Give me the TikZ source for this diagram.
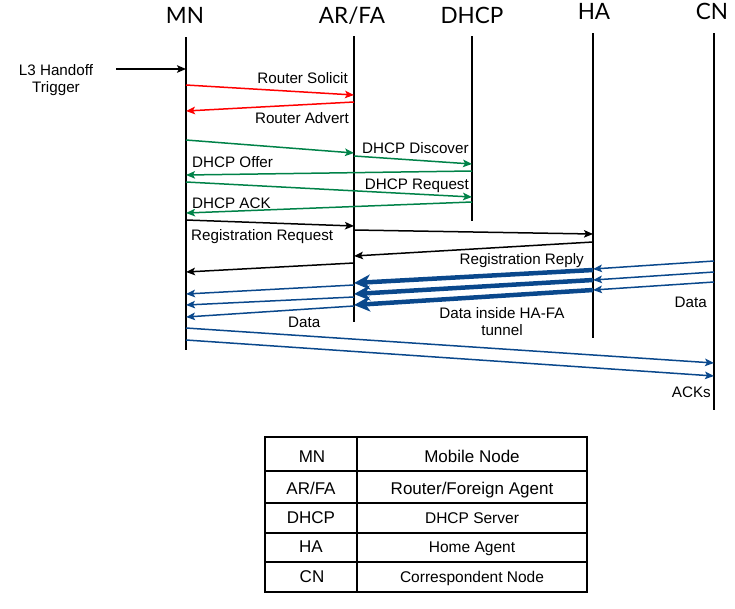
\documentclass[tikz,border=0pt]{standalone}
\usepackage{fontspec}
\setmainfont{Liberation Sans}
\newfontfamily\headfont{Lato}
\usepackage{tikz}
\usetikzlibrary{arrows.meta}
\definecolor{msgred}{RGB}{255,0,0}
\definecolor{msggreen}{RGB}{0,130,72}
\definecolor{msgblue}{RGB}{10,72,140}

\begin{document}
\begin{tikzpicture}[x=1pt, y=-1pt,
        lifeline/.style={line width=1.8pt, black},
        head/.style={font=\headfont\fontsize{22.5}{24}\selectfont, inner sep=0pt, anchor=base},
        lbl/.style={font=\fontsize{15.2}{17}\selectfont, inner sep=0pt},
        msg/.style={line width=1.5pt, -{Stealth[length=9pt, width=7.5pt, inset=2pt]}},
        tunnelmsg/.style={line width=4.5pt, msgblue, -{Stealth[length=16pt, width=15pt, inset=4.5pt]}},
        cell/.style={font=\fontsize{17}{20}\selectfont, inner sep=0pt, anchor=base},
        smallcell/.style={font=\fontsize{15.5}{18}\selectfont, inner sep=0pt, anchor=base}]
        \useasboundingbox (0,0) rectangle (735,608);

        % entities and lifelines
        \node[head] (mnH) at (185,23) {MN};
        \node[head] (arH) at (352,23) {AR/FA};
        \node[head] (dhH) at (472,23) {DHCP};
        \node[head] (haH) at (594,19) {HA};
        \node[head] (cnH) at (712,19) {CN};
        \coordinate (mnT) at (186,37);  \coordinate (mnB) at (186,350);
        \coordinate (arT) at (354,36);  \coordinate (arB) at (354,322);
        \coordinate (dhT) at (472,36);  \coordinate (dhB) at (472,221);
        \coordinate (haT) at (593,33);  \coordinate (haB) at (593,338);
        \coordinate (cnT) at (714,33);  \coordinate (cnB) at (714,410);
        \draw[lifeline] (mnT) -- (mnB);
        \draw[lifeline] (arT) -- (arB);
        \draw[lifeline] (dhT) -- (dhB);
        \draw[lifeline] (haT) -- (haB);
        \draw[lifeline] (cnT) -- (cnB);

        % handoff trigger
        \node[lbl, align=center] (trig) at (56,80) {L3 Handoff\\Trigger};
        \coordinate (trigS) at (116,69);
        \draw[msg] (trigS) -- (mnT |- 0,69);

        % router discovery
        \draw[msg, msgred] (mnT |- 0,85) -- (arT |- 0,95);
        \node[lbl, anchor=base east] (rsol) at (348,83) {Router Solicit};
        \draw[msg, msgred] (arT |- 0,102) -- (mnT |- 0,111);
        \node[lbl, anchor=base east] (radv) at (349,123) {Router Advert};

        % DHCP exchange
        \draw[msg, msggreen] (mnT |- 0,140) -- (arT |- 0,153);
        \draw[msg, msggreen] (arT |- 0,156) -- (dhT |- 0,164);
        \node[lbl, anchor=base west] (ddisc) at (362,153) {DHCP Discover};
        \draw[msg, msggreen] (dhT |- 0,171) -- (mnT |- 0,175);
        \node[lbl, anchor=base west] (doff) at (192,167) {DHCP Offer};
        \draw[msg, msggreen] (mnT |- 0,182) -- (dhT |- 0,197);
        \node[lbl, anchor=base east] (dreq) at (469,189) {DHCP Request};
        \draw[msg, msggreen] (dhT |- 0,202) -- (mnT |- 0,213);
        \node[lbl, anchor=base west] (dack) at (192,208) {DHCP ACK};

        % registration
        \draw[msg] (mnT |- 0,220) -- (arT |- 0,226);
        \draw[msg] (arT |- 0,230) -- (haT |- 0,234);
        \node[lbl, anchor=base west] (rreq) at (191,240) {Registration Request};
        \draw[msg] (haT |- 0,242) -- (arT |- 0,256);
        \draw[msg] (arT |- 0,263) -- (mnT |- 0,272);
        \node[lbl, anchor=base east] (rrep) at (584,264) {Registration Reply};

        % data from CN through the tunnel
        \draw[msg, msgblue] (cnT |- 0,261) -- (haT |- 0,269);
        \draw[msg, msgblue] (cnT |- 0,272) -- (haT |- 0,280);
        \draw[msg, msgblue] (cnT |- 0,282) -- (haT |- 0,290);
        \node[lbl, anchor=base east] (dcn) at (707,307) {Data};
        \draw[msg, msgblue] (arT |- 0,285) -- (mnT |- 0,294);
        \draw[msg, msgblue] (arT |- 0,297) -- (mnT |- 0,305);
        \draw[msg, msgblue] (arT |- 0,306) -- (mnT |- 0,317);
        \node[lbl, anchor=base west] (dmn) at (288,327) {Data};
        \draw[tunnelmsg] (haT |- 0,270) -- (arT |- 0,283);
        \draw[tunnelmsg] (haT |- 0,280) -- (arT |- 0,294);
        \draw[tunnelmsg] (haT |- 0,290) -- (arT |- 0,305);
        \node[lbl, align=center] (dtun) at (502,322) {Data inside HA-FA\\tunnel};

        % acknowledgements
        \draw[msg, msgblue] (mnT |- 0,328) -- (cnT |- 0,363);
        \draw[msg, msgblue] (mnT |- 0,340) -- (cnT |- 0,376);
        \node[lbl, anchor=base east] (acks) at (711,397) {ACKs};

        % legend table
        \draw[line width=1.8pt] (265,437) rectangle (587,592);
        \draw[line width=1.8pt] (357,437) -- (357,592);
        \draw[line width=1.8pt] (265,471) -- (587,471);
        \draw[line width=1.8pt] (265,503) -- (587,503);
        \draw[line width=1.8pt] (265,533) -- (587,533);
        \draw[line width=1.8pt] (265,562) -- (587,562);
        \node[cell] (kMN) at (312,462) {MN};
        \node[cell] (kAR) at (311,494) {AR/FA};
        \node[cell] (kDH) at (311,523) {DHCP};
        \node[cell] (kHA) at (311,552) {HA};
        \node[cell] (kCN) at (312,582) {CN};
        \node[cell] (vMN) at (472,462) {Mobile Node};
        \node[cell] (vAR) at (472,494) {Router/Foreign Agent};
        \node[smallcell] (vDH) at (472,523) {DHCP Server};
        \node[smallcell] (vHA) at (472,552) {Home Agent};
        \node[smallcell] (vCN) at (472,582) {Correspondent Node};
    \end{tikzpicture}
\end{document}
